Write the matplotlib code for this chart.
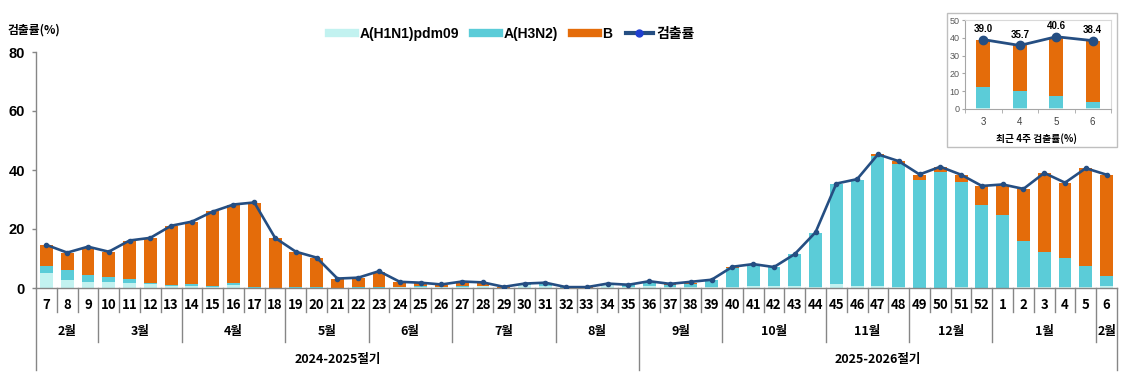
import matplotlib
matplotlib.use('Agg')
import matplotlib.pyplot as plt
import matplotlib.transforms as mtransforms
from matplotlib.lines import Line2D
from matplotlib.patches import Rectangle
import numpy as np

# ---- data ----
weeks = list(range(7, 36)) + list(range(36, 53)) + list(range(1, 7))

h1n1 = [5.2, 2.7, 2.0, 2.0, 1.7, 1.4, 0.8, 0.8, 0.2, 1.0,
        0.0, 0.0, 0.0, 0.0, 0.0, 0.0, 0.0, 0.3, 0.5, 0.2,
        0.5, 0.7, 0.0, 1.0, 0.6, 0.1, 0.1, 1.0, 0.5,
        0.8, 0.4, 0.5, 0.2, 0.3, 0.8, 0.8, 0.7, 0.2, 1.4,
        0.7, 0.6, 0.4, 0.1, 0.1, 0.4, 0.1,
        0.1, 0.4, 0.3, 0.3, 0.3, 0.6]
h3n2 = [2.2, 3.4, 2.4, 1.7, 1.3, 0.3, 0.2, 0.6, 0.6, 0.7,
        0.3, 0.1, 0.4, 0.3, 0.1, 0.3, 0.3, 0.0, 0.2, 0.2,
        0.1, 0.1, 0.0, 0.3, 0.8, 0.1, 0.0, 0.2, 0.5,
        0.9, 0.7, 1.0, 2.5, 6.6, 7.0, 6.4, 10.8, 18.6, 34.0,
        35.8, 44.3, 41.8, 36.6, 39.3, 35.5, 28.0,
        24.6, 15.5, 11.9, 9.9, 7.1, 3.5]
flu_b = [7.2, 5.9, 9.5, 8.5, 13.0, 15.3, 20.0, 21.0, 25.2, 26.5,
         28.6, 16.9, 11.9, 10.0, 3.1, 3.2, 5.2, 1.7, 0.9, 0.7,
         1.0, 0.8, 0.4, 0.0, 0.2, 0.1, 0.1, 0.0, 0.0,
         0.0, 0.1, 0.3, 0.0, 0.3, 0.0, 0.0, 0.0, 0.0, 0.0,
         0.2, 0.4, 0.8, 1.6, 1.7, 2.4, 6.6,
         10.0, 17.5, 26.8, 25.5, 33.2, 34.3]
rate = [14.6, 12.0, 14.0, 12.3, 16.1, 17.0, 21.1, 22.5, 25.9, 28.3,
        29.0, 17.0, 12.3, 10.3, 3.2, 3.5, 5.7, 2.1, 1.8, 1.2,
        2.2, 1.9, 0.4, 1.5, 1.8, 0.3, 0.3, 1.5, 1.1,
        2.3, 1.4, 2.1, 2.8, 7.2, 8.1, 7.1, 11.5, 18.9, 35.4,
        36.9, 45.3, 43.0, 38.5, 41.1, 38.4, 34.6,
        35.1, 33.6, 39.0, 35.7, 40.6, 38.4]

months = ['2월', '3월', '4월', '5월', '6월', '7월', '8월',
          '9월', '10월', '11월', '12월', '1월', '2월']
month_spans = [3, 4, 5, 4, 4, 5, 4, 4, 5, 4, 4, 5, 1]
seasons = ['2024-2025절기', '2025-2026절기']
season_spans = [29, 23]

inset_labels = ['3', '4', '5', '6']

legend_labels = ['A(H1N1)pdm09', 'A(H3N2)', 'B', '검출률']

# ---- style ----
c_h1 = '#C2F2F0'
c_h3 = '#5BCCD8'
c_b = '#E46C0A'
c_line = '#254E82'
c_axis = '#868686'
kr = ['Noto Sans CJK KR', 'DejaVu Sans']
latin = ['Liberation Sans', 'Noto Sans CJK KR']

W, H = 1129, 380
fig = plt.figure(figsize=(W / 100, H / 100), dpi=100)

ax = fig.add_axes([36 / W, 1 - 288 / H, (1117 - 36) / W, (288 - 52) / H])
n = len(weeks)
x = np.arange(n)
h1 = np.array(h1n1)
h3 = np.array(h3n2)
bb = np.array(flu_b)

ax.bar(x, h1, width=0.62, color=c_h1, zorder=2)
ax.bar(x, h3, bottom=h1, width=0.62, color=c_h3, zorder=2)
ax.bar(x, bb, bottom=h1 + h3, width=0.62, color=c_b, zorder=2)
ax.plot(x, rate, color=c_line, lw=1.9, marker='o', ms=3,
        mfc=c_line, mec=c_line, zorder=3)

ax.set_xlim(-0.5, n - 0.5)
ax.set_ylim(0, 80)
ax.set_yticks([0, 20, 40, 60, 80])
ax.set_xticks([])
for lab in ax.get_yticklabels():
    lab.set_fontfamily(latin)
    lab.set_fontweight('bold')
    lab.set_fontsize(10.5)
ax.tick_params(axis='y', length=3, width=1, color=c_axis, pad=5)
for s in ['top', 'right']:
    ax.spines[s].set_visible(False)
for s in ['left', 'bottom']:
    ax.spines[s].set_color(c_axis)
    ax.spines[s].set_linewidth(1)

# ---- multi-level category axis ----
trans = mtransforms.blended_transform_factory(ax.transData, fig.transFigure)
fy = lambda py: 1 - py / H

month_edges = set(np.cumsum([0] + month_spans))
season_edges = set(np.cumsum([0] + season_spans))
for i in range(n + 1):
    xb = i - 0.5
    if i in season_edges:
        y2 = 370
    elif i in month_edges:
        y2 = 342
    else:
        y2 = 312
    ax.plot([xb, xb], [fy(288), fy(y2)], transform=trans, clip_on=False,
            color=c_axis, lw=1, zorder=1)

for i, w in enumerate(weeks):
    ax.text(i, fy(305), str(w), transform=trans, ha='center', va='center',
            fontsize=9.5, fontweight='bold', family=kr)

start = 0
for m, sp in zip(months, month_spans):
    ax.text(start + (sp - 1) / 2, fy(331), m, transform=trans, ha='center',
            va='center', fontsize=9, fontweight='bold', family=kr)
    start += sp

start = 0
for s, sp in zip(seasons, season_spans):
    ax.text(start + (sp - 1) / 2, fy(359), s, transform=trans, ha='center',
            va='center', fontsize=9, fontweight='bold', family=kr)
    start += sp

fig.text(7 / W, fy(30), '검출률(%)', ha='left', va='center', fontsize=8.5,
         fontweight='bold', family=kr)

# ---- legend ----
handles = [Line2D([0], [0], color=c_h1, lw=6),
           Line2D([0], [0], color=c_h3, lw=6),
           Line2D([0], [0], color=c_b, lw=6),
           Line2D([0], [0], color=c_line, lw=3, marker='o', ms=5,
                  mfc='#1F3FD0', mec='#1F3FD0')]
fig.legend(handles, legend_labels, loc='center', bbox_to_anchor=(512 / W, fy(34)),
           ncol=4, frameon=False, handlelength=1.9, handletextpad=0.3,
           columnspacing=1.0,
           prop=dict(family=latin, weight='bold', size=10))

# ---- inset: last 4 weeks ----
rect = Rectangle((947 / W, fy(147)), (1117 - 947) / W, (147 - 13) / H,
                 transform=fig.transFigure, facecolor='white',
                 edgecolor='#BFBFBF', lw=1, zorder=5)
fig.add_artist(rect)

axin = fig.add_axes([965 / W, fy(109), 146 / W, 89 / H], zorder=6)
xi = np.arange(len(inset_labels))
i_h1 = h1[-4:]
i_h3 = h3[-4:]
i_b = bb[-4:]
i_rate = rate[-4:]
axin.bar(xi, i_h1, width=0.38, color=c_h1, zorder=2)
axin.bar(xi, i_h3, bottom=i_h1, width=0.38, color=c_h3, zorder=2)
axin.bar(xi, i_b, bottom=i_h1 + i_h3, width=0.38, color=c_b, zorder=2)
axin.plot(xi, i_rate, color=c_line, lw=2, marker='o', ms=6,
          mfc=c_line, mec=c_line, zorder=3)
for xx, v in zip(xi, i_rate):
    axin.annotate(f'{v:.1f}', (xx, v), xytext=(0, 4), textcoords='offset points',
                  ha='center', va='bottom', fontsize=7, fontweight='bold',
                  family=latin)
axin.set_xlim(-0.5, len(inset_labels) - 0.5)
axin.set_ylim(0, 50)
axin.set_yticks(range(0, 51, 10))
axin.set_xticks(xi)
axin.set_xticklabels(inset_labels)
axin.set_xticks(np.arange(-0.5, len(inset_labels)), minor=True)
axin.tick_params(axis='y', labelsize=6.5, labelcolor='#595959', length=2,
                 color='#A6A6A6', pad=2)
axin.tick_params(axis='x', which='major', labelsize=7, labelcolor='#404040',
                 length=0, pad=6)
axin.tick_params(axis='x', which='minor', length=3, color='#A6A6A6')
for lab in axin.get_xticklabels() + axin.get_yticklabels():
    lab.set_fontfamily(latin)
for s in ['top', 'right']:
    axin.spines[s].set_color('#D9D9D9')
for s in ['left', 'bottom']:
    axin.spines[s].set_color('#A6A6A6')
fig.text(1037 / W, fy(139), '최근 4주 검출률(%)', ha='center', va='center',
         fontsize=7, fontweight='bold', family=kr, zorder=7)

fig.savefig('out.png', dpi=100)
